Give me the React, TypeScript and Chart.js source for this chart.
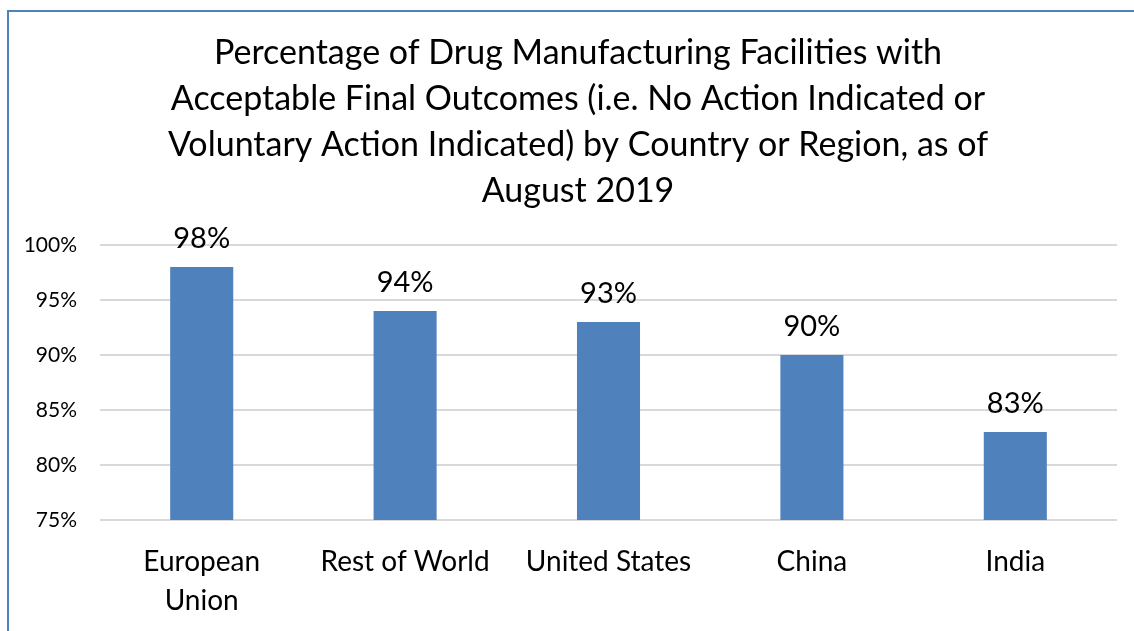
import React, { useEffect, useRef } from "react";
import { Chart, registerables } from "chart.js";

Chart.register(...registerables);

const titleLines = [
  "Percentage of Drug Manufacturing Facilities with",
  "Acceptable Final Outcomes (i.e. No Action Indicated or",
  "Voluntary Action Indicated) by Country or Region, as of",
  "August 2019",
];
const categories: (string | string[])[] = [
  ["European", "Union"],
  "Rest of World",
  "United States",
  "China",
  "India",
];
const values = [98, 94, 93, 90, 83];
const yMin = 75;
const yMax = 100;
const yStep = 5;

const FONT = "Lato, 'Open Sans', sans-serif";

const labelPlugin = {
  id: "barLabels",
  afterDatasetsDraw(chart: any) {
    const ctx = chart.ctx;
    const meta = chart.getDatasetMeta(0);
    ctx.save();
    ctx.font = `29px ${FONT}`;
    ctx.fillStyle = "#000000";
    ctx.textAlign = "center";
    ctx.textBaseline = "alphabetic";
    meta.data.forEach((bar: any, i: number) => {
      ctx.fillText(values[i] + "%", bar.x, bar.y - 19);
    });
    ctx.restore();
  },
};

const titlePlugin = {
  id: "customTitle",
  afterDraw(chart: any) {
    const ctx = chart.ctx;
    ctx.save();
    ctx.font = `34px ${FONT}`;
    ctx.fillStyle = "#000000";
    ctx.textAlign = "center";
    ctx.textBaseline = "middle";
    titleLines.forEach((line, i) => {
      ctx.fillText(line, 578, 53 + i * 46);
    });
    ctx.restore();
  },
};

export default function App() {
  const ref = useRef<HTMLCanvasElement>(null);
  useEffect(() => {
    if (!ref.current) return;
    const chart = new Chart(ref.current, {
      type: "bar",
      data: {
        labels: categories,
        datasets: [
          {
            data: values,
            backgroundColor: "#4f81bd",
            barPercentage: 0.31,
            categoryPercentage: 1,
          },
        ],
      },
      options: {
        responsive: false,
        animation: false,
        devicePixelRatio: 1,
        layout: { padding: { top: 245, left: 0, right: 17, bottom: 0 } },
        plugins: {
          legend: { display: false },
          tooltip: { enabled: false },
          title: { display: false },
        },
        scales: {
          x: {
            grid: { display: false },
            border: { display: false },
            ticks: {
              color: "#000000",
              font: { family: FONT, size: 28, lineHeight: 39 / 28 },
              padding: 14,
              maxRotation: 0,
              autoSkip: false,
            },
            afterFit(scale: any) {
              scale.height = 111;
            },
          },
          y: {
            min: yMin,
            max: yMax,
            grid: { color: "#d9d9d9", lineWidth: 2, drawTicks: false },
            border: { display: false },
            ticks: {
              stepSize: yStep,
              color: "#000000",
              padding: 23,
              font: { family: FONT, size: 21 },
              callback: (v: any) => v + "%",
            },
            afterFit(scale: any) {
              scale.width = 100;
            },
          },
        },
      },
      plugins: [labelPlugin, titlePlugin],
    });
    return () => chart.destroy();
  }, []);
  return (
    <div style={{ position: "absolute", left: 0, top: 0, width: 1134, height: 631, background: "#fff" }}>
      <canvas ref={ref} width={1134} height={631} style={{ position: "absolute", left: 0, top: 0 }} />
      <div
        style={{
          position: "absolute",
          left: 7,
          top: 10,
          width: 1127,
          height: 621,
          borderLeft: "2px solid #4f81bd",
          borderTop: "2px solid #4f81bd",
          boxSizing: "border-box",
          pointerEvents: "none",
        }}
      />
    </div>
  );
}
